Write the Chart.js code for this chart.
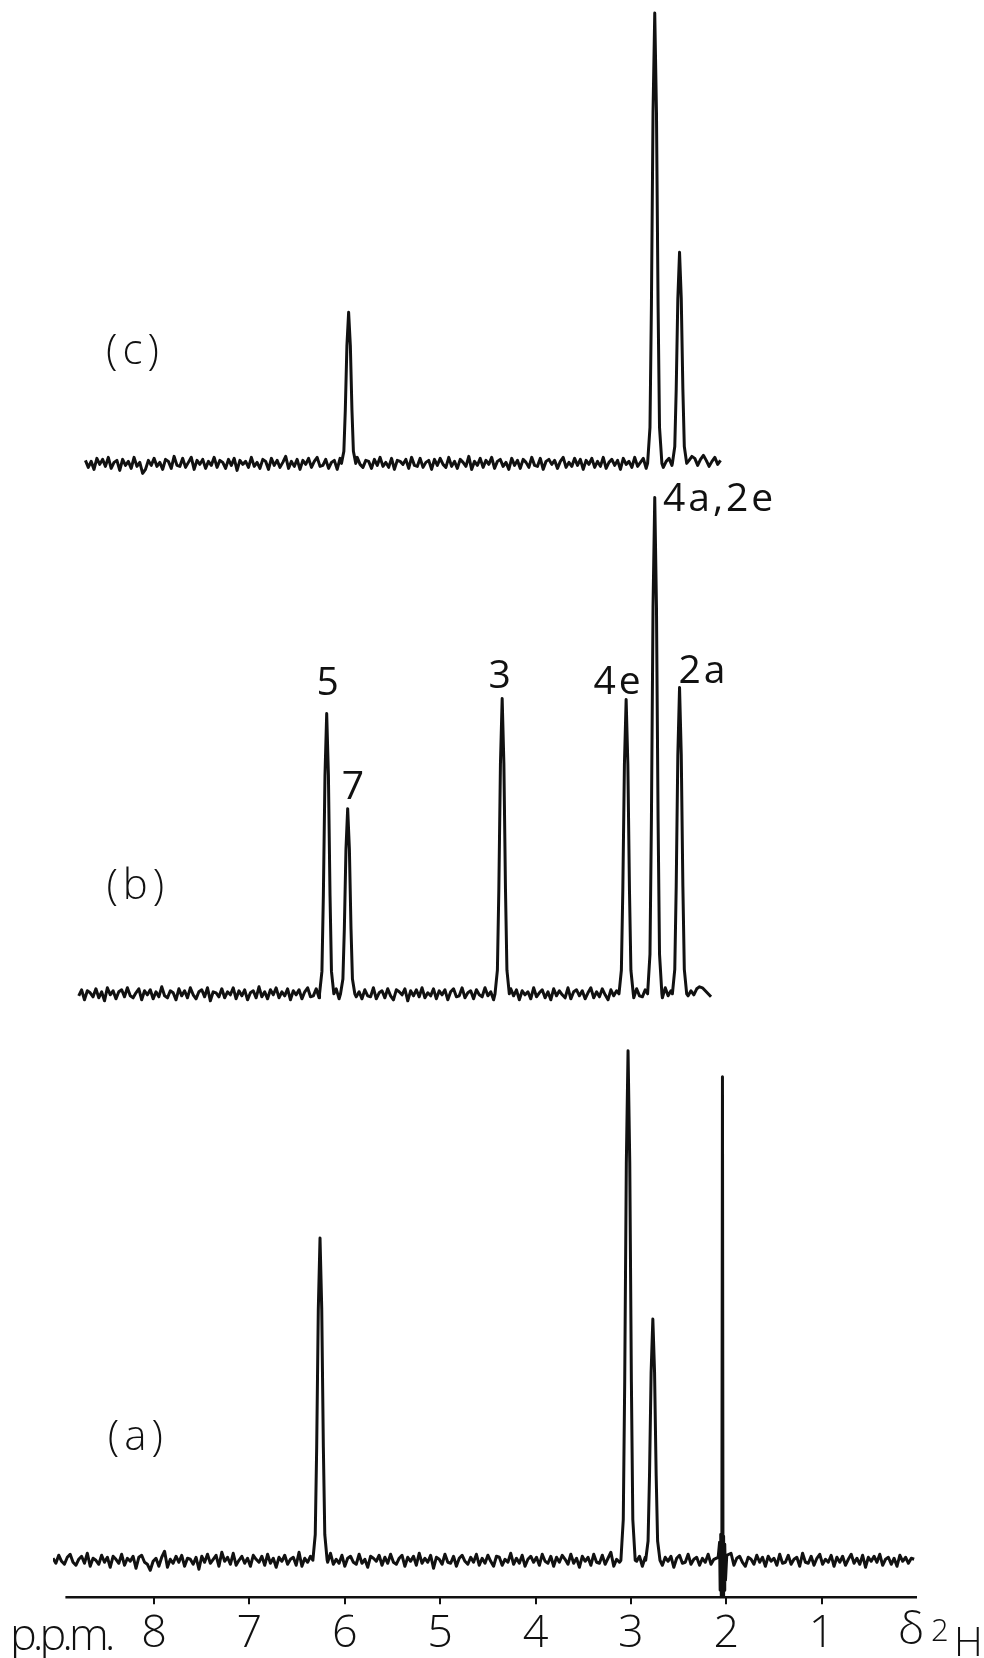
<!DOCTYPE html>
<html>
<head>
<meta charset="utf-8">
<script src="https://cdn.jsdelivr.net/npm/chart.js@4.4.1/dist/chart.umd.min.js"></script>
<style>
  html, body { margin: 0; padding: 0; background: #fff; }
  #wrap { width: 984px; height: 1658px; position: relative; }
</style>
</head>
<body>
<div id="wrap"><canvas id="nmr"></canvas></div>
<script>
// chemical shift axis (ppm, drawn high -> low)
const xMin = 0, xMax = 9.06;
const axisStart = 8.93, axisEnd = 0;
const tickValues = [8, 7, 6, 5, 4, 3, 2, 1];

// trace baselines (vertical offset of each spectrum)
const baseA = 37, baseB = 603, baseC = 1133;
const step = 0.03;
const startA = 9.06, startB = 8.79, startC = 8.72;

// peaks: position (ppm) and height above baseline
const peaksA_ppm = [6.26, 3.03, 2.77];
const peaksA_h = [322, 509, 241];
const peaksB_ppm = [6.19, 5.97, 4.35, 3.05, 2.75, 2.49];
const peaksB_h = [280, 185, 295, 294, 496, 306];
const peaksC_ppm = [5.96, 2.75, 2.49];
const peaksC_h = [151, 450, 211];

// solvent line in (a), partly dispersive
const spikeA = [[2.085, 3], [2.07, 18], [2.064, -30], [2.058, 26], [2.052, -36], [2.046, 22],
  [2.04, 483], [2.034, -38], [2.028, 24], [2.022, -30], [2.016, 16], [2.008, -20], [1.995, 5]];

// line shape of a single peak (ppm offset, fraction of height)
const peakShape = [[-0.075, 0], [-0.05, 0.08], [-0.035, 0.35], [-0.018, 0.78], [0, 1],
  [0.018, 0.78], [0.035, 0.35], [0.05, 0.08], [0.075, 0]];

// baseline noise
const noiseA = [2,-3,5,-1,-4,3,6,-2,-5,1,4,-3,7,-6,2,0,-4,5,-2,3,-7,4,1,-3,6,
  -5,2,-1,4,-8,3,5,-2,-4,-10,-1,2,-6,3,9,-7,1,-3,4,-2,5,-6,2,1,-4,
  3,-9,4,-2,6,-3,1,5,-6,8,-1,3,-4,7,-5,0,4,-3,2,-6,5,1,-2,4,-5,
  6,-3,2,-7,3,-1,5,-4,1,3,-5,8,-6,2,-2,4,-3,6,-1,-5,3,-2,7,-4,1,
  -3,5,-6,2,4,-2,-4,6,-3,1,-7,4,2,-1,5,-5,3,-3,6,-2,-4,2,5,-6,3,
  -1,4,-5,7,-3,2,-2,5,-8,3,1,-4,6,-2,-3,4,-6,2,5,-1,-4,3,-2,6,-5,
  2,-3,5,-1,-6,4,3,-5,1,-2,7,-4,2,-3,5,-6,1,4,-2,3,-5,6,-1,-3,4,
  -6,3,-2,5,1,-4,6,-3,2,-7,4,-1,3,-5,6,-2,-3,5,-4,2,8,-6,1,-2,4,
  -3,6,-5,2,-1,4,-6,3,5,-2,-4,1,6,-5,3,-1,4,-7,2,5,-3,-2,6,-4,1,
  3,-5,2,-2,6,-4,1,5,-6,3,-1,-3,7,-5,2,4,-2,-6,3,1,-4,5,-2,3,-6,
  4,-1,2,-5,6,-3,-2,5,-4,1,3,-6,7,-2,-3,4,-5,2,6,-4,1,-2,5,-6,3,
  -2,4,-5,1,6,-3,2,-4,5,-7,3,-1,4,-2,6,-5,1,3,-4,2,-6,5,-1,3,-3,
  2,1];
const noiseB = [-2,4,-6,3,1,-3,5,-4,2,-7,6,-1,3,-5,2,4,-3,6,-2,-4,1,5,-6,3,-1,
  4,-5,2,-3,7,-2,-4,3,1,-6,5,-2,3,-4,6,-1,-5,2,4,-3,6,-7,2,1,-3,
  5,-4,2,-1,6,-5,3,-2,4,-6,1,3,-4,7,-3,2,-5,4,-1,6,-4,2,-2,5,-6,
  3,-1,4,-5,2,6,-3,-2,5,-4,1,-6,3,2,-3,5,-5,4,-2,1,-4,6,-3,2,-5,
  4,-2,-3,6,-5,1,3,-4,5,-2,-6,4,2,-1,5,-7,3,-2,4,-3,6,-4,1,-2,5,
  -5,3,-1,4,-6,2,5,-3,-2,6,-4,1,3,-5,4,-1,-3,6,-2,2,-6,5,-4,3,1,
  -3,5,-2,4,-6,3,-1,2,-5,6,-3,1,4,-4,2,-6,5,-2,3,-1,-4,6,-5,2,4,
  -2,3,-5,1,6,-4,2,-3,5,-1,-6,4,-2,3,-5,6,-3,1,2,-4,5,-2,-3,4,-6,
  2,5,-3,1,-4,6,-2,3,-5,2,4,-3,1,-2,3,-1,5,7,6,3,0,-3];
const noiseC = [3,-4,2,-6,5,-1,4,-3,6,-5,1,3,-7,4,-2,2,-5,6,-3,1,-10,-6,3,-2,5,
  -3,1,-6,4,2,-5,7,-2,-3,5,-4,1,6,-6,3,-1,4,-5,2,-2,6,-4,3,1,-5,
  4,-2,5,-7,3,-1,2,-4,6,-3,1,-5,4,2,-6,5,-2,3,-4,1,7,-5,2,-3,4,
  -6,3,-1,5,-4,2,6,-3,-2,4,-5,1,3,-6,5,-2,4,-3,2,-7,6,-1,-4,3,2,
  -5,4,-2,6,-3,1,-4,5,-6,3,2,-1,4,-5,6,-2,-3,5,-4,1,3,-6,4,-2,5,
  -1,-4,6,-3,2,-5,4,1,-3,7,-6,2,-2,5,-4,3,-1,6,-5,2,4,-3,1,-6,5,
  -2,3,-5,4,1,-4,6,-2,-3,5,-6,2,4,-1,3,-5,2,6,-4,1,-3,5,-2,4,-6,
  3,-1,5,-4,2,-3,6,-5,1,4,-2,3,-6,5,-1,2,-4,6,-3,1,5,-5,2,-2,4,
  -3,6,-4,2,5,-2,-3,4,-1,6,-4,3,7,5,-2,4,8,3,-3,2,6,-1,3];

// text labels placed in data coordinates
const traceLabels = [
  { text: '(a)', x: 8.17, y: 159 },
  { text: '(b)', x: 8.17, y: 710 },
  { text: '(c)', x: 8.2, y: 1244 }
];
const peakLabels = [
  { text: '5', x: 6.165, y: 913 },
  { text: '7', x: 5.9, y: 809 },
  { text: '3', x: 4.36, y: 920 },
  { text: '4e', x: 3.13, y: 914 },
  { text: '4a,2e', x: 2.07, y: 1097 },
  { text: '2a', x: 2.24, y: 925 }
];

function buildTrace(start, noise, base, pk, ph, extra) {
  const centres = pk.slice();
  if (extra) centres.push(2.04);
  const pts = [];
  noise.forEach(function (n, i) {
    const p = +(start - i * step).toFixed(3);
    for (const c of centres) { if (Math.abs(p - c) < 0.078) return; }
    pts.push({ x: p, y: base + n });
  });
  pk.forEach(function (c, k) {
    peakShape.forEach(function (s) { pts.push({ x: c + s[0], y: base + s[1] * ph[k] }); });
  });
  if (extra) extra.forEach(function (s) { pts.push({ x: s[0], y: base + s[1] }); });
  pts.sort(function (a, b) { return b.x - a.x; });
  return pts;
}

const lineStyle = {
  borderColor: '#111',
  borderWidth: 3,
  pointRadius: 0,
  tension: 0,
  borderJoinStyle: 'round',
  fill: false
};

const data = {
  datasets: [
    Object.assign({ label: '(a)', data: buildTrace(startA, noiseA, baseA, peaksA_ppm, peaksA_h, spikeA) }, lineStyle),
    Object.assign({ label: '(b)', data: buildTrace(startB, noiseB, baseB, peaksB_ppm, peaksB_h) }, lineStyle),
    Object.assign({ label: '(c)', data: buildTrace(startC, noiseC, baseC, peaksC_ppm, peaksC_h) }, lineStyle)
  ]
};

// axis line, end captions and peak labels
const annotate = {
  id: 'annotate',
  afterDatasetsDraw(chart) {
    const ctx = chart.ctx;
    const xs = chart.scales.x, ys = chart.scales.y;
    ctx.save();
    ctx.strokeStyle = '#111';
    ctx.lineWidth = 2.5;
    ctx.beginPath();
    ctx.moveTo(xs.getPixelForValue(axisStart), ys.getPixelForValue(0));
    ctx.lineTo(xs.getPixelForValue(axisEnd), ys.getPixelForValue(0));
    ctx.stroke();

    ctx.fillStyle = '#111';
    ctx.textAlign = 'center';
    ctx.textBaseline = 'middle';
    ctx.font = '300 42px "Open Sans"';
    ctx.letterSpacing = '5px';
    traceLabels.forEach(function (l) {
      ctx.fillText(l.text, xs.getPixelForValue(l.x), ys.getPixelForValue(l.y));
    });
    ctx.font = '400 39px "Open Sans"';
    ctx.letterSpacing = '3px';
    peakLabels.forEach(function (l) {
      ctx.fillText(l.text, xs.getPixelForValue(l.x), ys.getPixelForValue(l.y));
    });

    ctx.textAlign = 'left';
    ctx.textBaseline = 'alphabetic';
    ctx.font = '300 45px "Open Sans"';
    ctx.letterSpacing = '-4px';
    ctx.fillText('p.p.m.', 10, 1650);
    ctx.letterSpacing = '0px';
    ctx.fillText('δ', 898, 1644);
    ctx.font = '300 31px "Open Sans"';
    ctx.fillText('2', 931, 1641);
    ctx.font = '300 40px "Open Sans"';
    ctx.fillText('H', 954, 1656);
    ctx.restore();
  }
};

const config = {
  type: 'line',
  data: data,
  options: {
    responsive: true,
    maintainAspectRatio: false,
    animation: false,
    layout: { padding: { left: 53, right: 67, top: 6, bottom: -6 } },
    plugins: { legend: { display: false }, tooltip: { enabled: false } },
    scales: {
      x: {
        type: 'linear',
        reverse: true,
        min: xMin,
        max: xMax,
        afterBuildTicks: function (axis) {
          axis.ticks = tickValues.map(function (v) { return { value: v }; });
        },
        border: { display: false },
        grid: { drawOnChartArea: false, drawTicks: true, tickLength: 7, color: '#111', lineWidth: 2 },
        ticks: {
          color: '#111',
          padding: 6,
          maxRotation: 0,
          autoSkip: false,
          font: { family: "'Open Sans'", size: 45, weight: '300', lineHeight: 1.06 }
        }
      },
      y: {
        display: false,
        min: 0,
        max: 1590
      }
    }
  },
  plugins: [annotate]
};

const nmrChart = new Chart(document.getElementById('nmr').getContext('2d'), config);
</script>
</body>
</html>
